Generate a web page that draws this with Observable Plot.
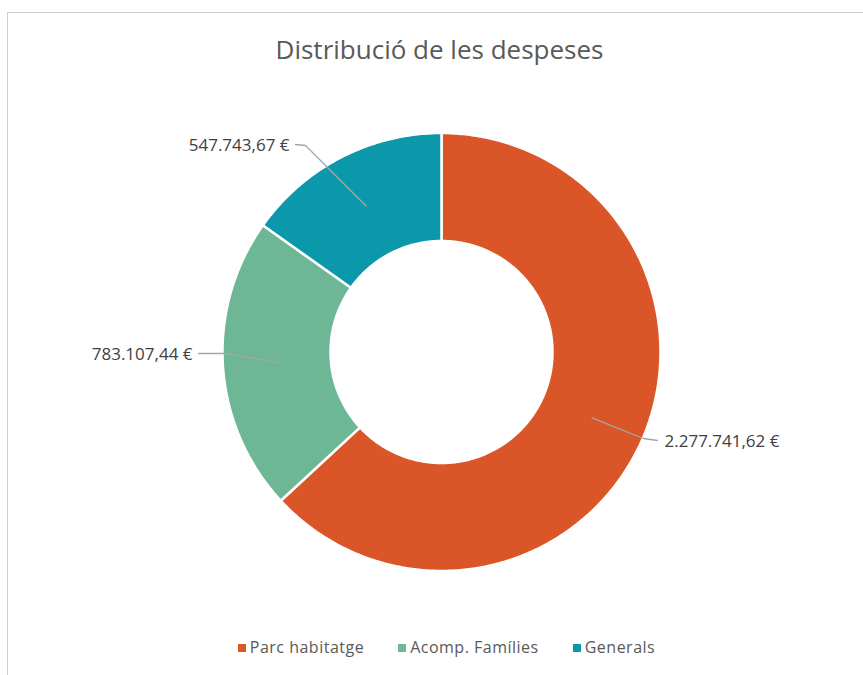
<!DOCTYPE html>
<html>
<head>
<meta charset="utf-8">
<script src="https://cdn.jsdelivr.net/npm/d3@7"></script>
<script src="https://cdn.jsdelivr.net/npm/@observablehq/plot@0.6"></script>
<style>
  html, body { margin: 0; padding: 0; background: #fff; }
  body { width: 863px; height: 675px; position: relative; overflow: hidden; font-family: "Open Sans", sans-serif; }
  #frame { position: absolute; left: 7px; top: 12px; right: -2px; bottom: -2px; border-top: 1.5px solid #cfcfcf; border-left: 1.5px solid #cfcfcf; }
  #title { position: absolute; left: 0; width: 879px; top: 31px; text-align: center; font-size: 26px; color: #595959; }
  #chart { position: absolute; left: 0; top: 80px; }
  #legend { position: absolute; top: 636px; left: 0; width: 893px; display: flex; justify-content: center; gap: 34px; font-size: 16px; letter-spacing: 0.5px; color: #595959; }
  #legend span.item { white-space: nowrap; }
  #legend span.sw { display: inline-block; width: 8px; height: 8px; margin-right: 4px; vertical-align: 1px; }
</style>
</head>
<body>
<div id="frame"></div>
<div id="title">Distribució de les despeses</div>
<div id="chart"></div>
<div id="legend"></div>
<script>
// ---- data ----
const categories = ["Parc habitatge", "Acomp. Famílies", "Generals"];
const values = [2277741.62, 783107.44, 547743.67];
const colors = ["#DA5628", "#6DB796", "#0C98AB"];

// ---- layout constants ----
const W = 863, H = 560, TOP = 80;
const CX = 441, CY = 271.5, R = 219, INNER = 111 / 219;
const toUnit = ([x, y]) => [(x - CX) / R, (CY - (y - TOP)) / R];

const loc = d3.formatLocale({decimal: ",", thousands: ".", grouping: [3], currency: ["", " €"]});
const fmt = v => loc.format(",.2f")(v) + " €";

const pie = d3.pie().sort(null).value(d => d.value);
const arcs = pie(categories.map((c, i) => ({name: c, value: values[i], color: colors[i]})));

// polygon points for each slice
const slicePts = [];
for (const a of arcs) {
  const n = Math.max(8, Math.ceil((a.endAngle - a.startAngle) / 0.01));
  const pts = [];
  for (let k = 0; k <= n; k++) {
    const t = a.startAngle + (a.endAngle - a.startAngle) * k / n;
    pts.push([Math.sin(t), Math.cos(t)]);
  }
  for (let k = n; k >= 0; k--) {
    const t = a.startAngle + (a.endAngle - a.startAngle) * k / n;
    pts.push([INNER * Math.sin(t), INNER * Math.cos(t)]);
  }
  pts.push(pts[0]);
  pts.forEach(p => slicePts.push({name: a.data.name, color: a.data.color, x: p[0], y: p[1]}));
}

// leader lines: from the slice midpoint (r = 0.75) to an elbow and label anchor (page pixel layout)
const leaderLayout = [
  {elbow: [643, 438], end: [657, 440], text: [664, 441], anchor: "start"},
  {elbow: [225, 353], end: [198, 353], text: [192, 354], anchor: "end"},
  {elbow: [305, 145], end: [295, 144], text: [289, 145], anchor: "end"}
];
const leaderPts = [];
const labelPts = [];
arcs.forEach((a, i) => {
  const m = (a.startAngle + a.endAngle) / 2;
  const L = leaderLayout[i];
  const e = toUnit(L.elbow), f = toUnit(L.end), t = toUnit(L.text);
  [[0.75 * Math.sin(m), 0.75 * Math.cos(m)], e, f].forEach(p => leaderPts.push({name: a.data.name, x: p[0], y: p[1]}));
  labelPts.push({x: t[0], y: t[1], text: fmt(a.data.value), anchor: L.anchor});
});

const xDomain = [-CX / R, (W - CX) / R];
const yDomain = [-(H - CY) / R, CY / R];

const chart = Plot.plot({
  width: W, height: H,
  margin: 0,
  x: {domain: xDomain, axis: null},
  y: {domain: yDomain, axis: null},
  style: {background: "transparent", overflow: "visible"},
  marks: [
    Plot.line(slicePts, {x: "x", y: "y", z: "name", fill: "color", stroke: "white", strokeWidth: 2.5, curve: "linear"}),
    Plot.line(leaderPts, {x: "x", y: "y", z: "name", stroke: "#a6a6a6", strokeWidth: 1.3, curve: "linear"}),
    Plot.text(labelPts.filter(d => d.anchor === "start"), {x: "x", y: "y", text: "text", textAnchor: "start", fontSize: 17, fill: "#404040", fontFamily: "Open Sans"}),
    Plot.text(labelPts.filter(d => d.anchor === "end"), {x: "x", y: "y", text: "text", textAnchor: "end", fontSize: 17, fill: "#404040", fontFamily: "Open Sans"})
  ]
});
document.getElementById("chart").appendChild(chart);

const legend = document.getElementById("legend");
categories.forEach((c, i) => {
  const item = document.createElement("span");
  item.className = "item";
  const sw = document.createElement("span");
  sw.className = "sw";
  sw.style.background = colors[i];
  item.appendChild(sw);
  item.appendChild(document.createTextNode(c));
  legend.appendChild(item);
});
</script>
</body>
</html>
